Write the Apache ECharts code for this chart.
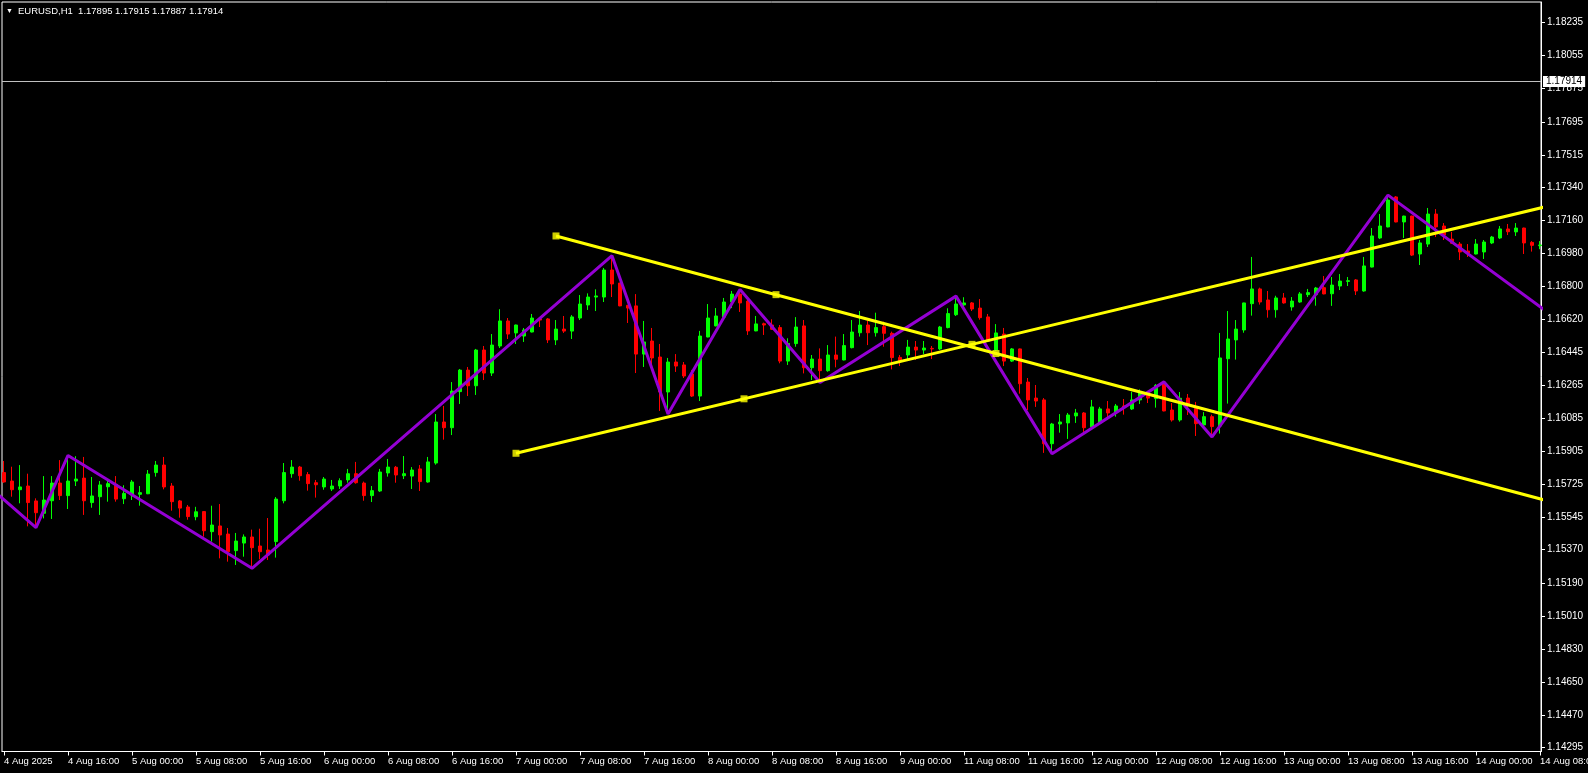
<!DOCTYPE html>
<html>
<head>
<meta charset="utf-8">
<script src="https://cdn.jsdelivr.net/npm/echarts@6/dist/echarts.min.js"></script>
<style>
html,body{margin:0;padding:0;background:#000;}
#chart{width:1588px;height:773px;}
</style>
</head>
<body>
<div id="chart"></div>
<script>
// ---------- DATA ----------
const symbolName = 'EURUSD,H1';
const headerOHLC = [1.17895, 1.17915, 1.17887, 1.17914];
const bidPrice = 1.17914;

const timeLabels = ['4 Aug 2025','4 Aug 16:00','5 Aug 00:00','5 Aug 08:00','5 Aug 16:00','6 Aug 00:00','6 Aug 08:00','6 Aug 16:00','7 Aug 00:00','7 Aug 08:00','7 Aug 16:00','8 Aug 00:00','8 Aug 08:00','8 Aug 16:00','9 Aug 00:00','11 Aug 08:00','11 Aug 16:00','12 Aug 00:00','12 Aug 08:00','12 Aug 16:00','13 Aug 00:00','13 Aug 08:00','13 Aug 16:00','14 Aug 00:00','14 Aug 08:00'];

const priceTicks = [1.18235,1.18055,1.17875,1.17695,1.17515,1.17340,1.17160,1.16980,1.16800,1.16620,1.16445,1.16265,1.16085,1.15905,1.15725,1.15545,1.15370,1.15190,1.15010,1.14830,1.14650,1.14470,1.14295];

const opens = [
1.15789,1.15743,1.15696,1.15716,1.15635,1.15568,1.15636,1.15732,1.15664,1.15743,
1.15759,1.15626,1.15658,1.15712,1.15725,1.15647,1.15667,1.15671,1.15674,1.15789,
1.15830,1.15716,1.15635,1.15602,1.15549,1.15577,1.15468,1.15499,1.15455,1.15365,
1.15406,1.15439,1.15390,1.15368,1.15414,1.15636,1.15783,1.15819,1.15778,1.15734,
1.15711,1.15700,1.15716,1.15749,1.15783,1.15732,1.15664,1.15689,1.15787,1.15818,
1.15772,1.15770,1.15809,1.15738,1.15841,1.16064,1.16033,1.16229,1.16346,1.16261,
1.16455,1.16330,1.16477,1.16613,1.16548,1.16531,1.16553,1.16624,1.16624,1.16510,
1.16569,1.16558,1.16629,1.16700,1.16743,1.16743,1.16890,1.16819,1.16698,1.16695,
1.16433,1.16504,1.16417,1.16227,1.16390,1.16374,1.16325,1.16205,1.16526,1.16586,
1.16634,1.16716,1.16759,1.16721,1.16559,1.16598,1.16591,1.16577,1.16395,1.16490,
1.16586,1.16359,1.16406,1.16343,1.16428,1.16401,1.16468,1.16549,1.16591,1.16549,
1.16582,1.16546,1.16415,1.16428,1.16471,1.16455,1.16464,1.16461,1.16577,1.16647,
1.16700,1.16711,1.16683,1.16635,1.16455,1.16542,1.16395,1.16461,1.16281,1.16194,
1.16184,1.15946,1.16053,1.16059,1.16097,1.16113,1.16037,1.16059,1.16135,1.16115,
1.16151,1.16135,1.16184,1.16225,1.16191,1.16270,1.16129,1.16075,1.16194,1.16138,
1.16048,1.16093,1.16042,1.16408,1.16510,1.16564,1.16707,1.16787,1.16727,1.16674,
1.16738,1.16689,1.16716,1.16756,1.16756,1.16794,1.16761,1.16803,1.16828,1.16836,
1.16776,1.16906,1.17064,1.17124,1.17287,1.17151,1.17183,1.16977,1.17031,1.17194,
1.17129,1.17058,1.17031,1.16993,1.16977,1.16988,1.17037,1.17064,1.17113,1.17097,
1.17118,1.17040,1.17022];

const highs = [
1.15852,1.15821,1.15830,1.15783,1.15649,1.15770,1.15770,1.15857,1.15882,1.15878,
1.15874,1.15765,1.15743,1.15745,1.15770,1.15720,1.15749,1.15716,1.15803,1.15852,
1.15874,1.15732,1.15640,1.15613,1.15603,1.15580,1.15609,1.15618,1.15488,1.15461,
1.15453,1.15479,1.15484,1.15542,1.15656,1.15841,1.15857,1.15825,1.15792,1.15749,
1.15765,1.15749,1.15758,1.15809,1.15847,1.15740,1.15716,1.15809,1.15863,1.15825,
1.15879,1.15819,1.15830,1.15874,1.16107,1.16151,1.16281,1.16352,1.16363,1.16461,
1.16477,1.16542,1.16677,1.16629,1.16593,1.16575,1.16651,1.16626,1.16629,1.16618,
1.16640,1.16645,1.16754,1.16763,1.16785,1.16901,1.16968,1.16820,1.16700,1.16759,
1.16613,1.16575,1.16488,1.16412,1.16433,1.16390,1.16347,1.16559,1.16705,1.16683,
1.16738,1.16776,1.16784,1.16727,1.16640,1.16604,1.16622,1.16591,1.16519,1.16634,
1.16618,1.16428,1.16464,1.16482,1.16528,1.16542,1.16618,1.16667,1.16615,1.16658,
1.16609,1.16555,1.16428,1.16510,1.16504,1.16504,1.16477,1.16586,1.16682,1.16748,
1.16742,1.16716,1.16732,1.16651,1.16596,1.16575,1.16466,1.16463,1.16303,1.16265,
1.16194,1.16059,1.16107,1.16113,1.16135,1.16118,1.16184,1.16146,1.16178,1.16162,
1.16189,1.16228,1.16241,1.16227,1.16270,1.16282,1.16167,1.16227,1.16216,1.16173,
1.16118,1.16104,1.16548,1.16667,1.16618,1.16712,1.16961,1.16794,1.16776,1.16750,
1.16765,1.16743,1.16770,1.16787,1.16798,1.16857,1.16852,1.16868,1.16852,1.16841,
1.16961,1.17118,1.17194,1.17297,1.17292,1.17185,1.17185,1.17053,1.17227,1.17221,
1.17145,1.17097,1.17042,1.17031,1.17058,1.17053,1.17075,1.17129,1.17140,1.17145,
1.17120,1.17047,1.17047];

const lows = [
1.15734,1.15658,1.15622,1.15497,1.15490,1.15540,1.15537,1.15640,1.15591,1.15716,
1.15559,1.15598,1.15559,1.15631,1.15631,1.15618,1.15640,1.15609,1.15672,1.15767,
1.15698,1.15582,1.15544,1.15533,1.15530,1.15441,1.15414,1.15323,1.15305,1.15287,
1.15332,1.15269,1.15318,1.15314,1.15327,1.15622,1.15761,1.15745,1.15691,1.15653,
1.15696,1.15689,1.15700,1.15734,1.15729,1.15636,1.15629,1.15684,1.15767,1.15734,
1.15754,1.15700,1.15689,1.15734,1.15832,1.15968,1.15993,1.16162,1.16205,1.16211,
1.16292,1.16314,1.16466,1.16515,1.16488,1.16499,1.16551,1.16580,1.16493,1.16482,
1.16548,1.16515,1.16618,1.16673,1.16667,1.16716,1.16743,1.16693,1.16602,1.16330,
1.16363,1.16363,1.16124,1.16108,1.16336,1.16303,1.16200,1.16178,1.16524,1.16584,
1.16629,1.16683,1.16662,1.16537,1.16557,1.16537,1.16564,1.16383,1.16374,1.16473,
1.16328,1.16292,1.16279,1.16337,1.16361,1.16399,1.16464,1.16528,1.16482,1.16528,
1.16473,1.16350,1.16368,1.16406,1.16401,1.16433,1.16406,1.16455,1.16573,1.16640,
1.16694,1.16667,1.16620,1.16499,1.16450,1.16368,1.16390,1.16218,1.16129,1.16146,
1.15896,1.15892,1.16006,1.15972,1.16059,1.16010,1.16033,1.16057,1.16075,1.16093,
1.16104,1.16129,1.16162,1.16167,1.16142,1.16122,1.16066,1.16066,1.16102,1.15988,
1.16043,1.15983,1.16001,1.16164,1.16403,1.16549,1.16642,1.16702,1.16631,1.16631,
1.16707,1.16669,1.16712,1.16743,1.16696,1.16758,1.16695,1.16781,1.16803,1.16754,
1.16772,1.16904,1.17058,1.17122,1.17149,1.17064,1.16966,1.16917,1.17015,1.17069,
1.17053,1.17033,1.16944,1.16961,1.16975,1.16950,1.17031,1.17058,1.17080,1.17075,
1.16977,1.16990,1.17003];

const closes = [
1.15738,1.15696,1.15711,1.15626,1.15571,1.15640,1.15732,1.15664,1.15743,1.15754,
1.15636,1.15662,1.15722,1.15729,1.15645,1.15676,1.15738,1.15680,1.15781,1.15830,
1.15711,1.15631,1.15596,1.15550,1.15576,1.15473,1.15504,1.15450,1.15359,1.15417,
1.15439,1.15381,1.15359,1.15341,1.15645,1.15789,1.15819,1.15772,1.15729,1.15723,
1.15754,1.15716,1.15745,1.15783,1.15734,1.15664,1.15691,1.15792,1.15819,1.15776,
1.15783,1.15803,1.15740,1.15847,1.16064,1.16033,1.16232,1.16346,1.16261,1.16455,
1.16330,1.16482,1.16613,1.16542,1.16591,1.16564,1.16629,1.16618,1.16510,1.16569,
1.16558,1.16635,1.16705,1.16743,1.16749,1.16890,1.16814,1.16695,1.16683,1.16433,
1.16499,1.16412,1.16227,1.16390,1.16368,1.16314,1.16205,1.16531,1.16629,1.16640,
1.16716,1.16759,1.16711,1.16559,1.16597,1.16591,1.16568,1.16395,1.16491,1.16580,
1.16359,1.16406,1.16343,1.16428,1.16405,1.16479,1.16553,1.16591,1.16549,1.16577,
1.16546,1.16414,1.16395,1.16471,1.16455,1.16466,1.16461,1.16580,1.16653,1.16705,
1.16711,1.16678,1.16631,1.16504,1.16548,1.16395,1.16461,1.16272,1.16184,1.16178,
1.15946,1.16053,1.16064,1.16102,1.16113,1.16033,1.16146,1.16135,1.16113,1.16151,
1.16142,1.16184,1.16225,1.16194,1.16263,1.16124,1.16075,1.16193,1.16162,1.16055,
1.16093,1.16039,1.16412,1.16515,1.16569,1.16711,1.16787,1.16716,1.16674,1.16738,
1.16711,1.16721,1.16760,1.16767,1.16792,1.16760,1.16808,1.16830,1.16832,1.16776,
1.16912,1.17075,1.17129,1.17270,1.17151,1.17183,1.16971,1.17037,1.17194,1.17124,
1.17080,1.17035,1.16988,1.16982,1.17031,1.17042,1.17069,1.17113,1.17098,1.17118,
1.17037,1.17024,1.17026];

// ZigZag pivots [bar index, price]
const zigzag = [[-4,1.15792],[4,1.15490],[8,1.15882],[31,1.15269],[76,1.16968],[83,1.16108],[92,1.16784],[102,1.16279],[119,1.16748],[131,1.15892],[145,1.16282],[151,1.15983],[173,1.17297],[200,1.16436]];

// Trendlines (rays): anchors and where the ray leaves the chart
const trendDown = [[69,1.17075],[124,1.16436],[193,1.15635]];
const trendDownAnchors = [[69,1.17075],[96.5,1.16756],[124,1.16436]];
const trendUp = [[64,1.15894],[121,1.16486],[193,1.17237]];
const trendUpAnchors = [[64,1.15894],[92.5,1.16190],[121,1.16486]];

// ---------- CHART ----------
const FONT = 'Liberation Sans, Arial, sans-serif';
const YELLOW = '#ffff00';
const chart = echarts.init(document.getElementById('chart'), null, {renderer: 'canvas'});

const candleData = opens.map((o, i) => [i, o, closes[i], lows[i], highs[i]]);
const xTicks = timeLabels.map((_, k) => k * 8);

chart.setOption({
  backgroundColor: '#000000',
  animation: false,
  title: {
    left: 6, top: 6, padding: 0,
    text: '{t|▼}' + symbolName + '  ' + headerOHLC.map(v => v.toFixed(5)).join(' '),
    textStyle: {
      color: '#ffffff', fontSize: 9.5, fontFamily: FONT, fontWeight: 'normal',
      rich: { t: { fontSize: 7, color: '#ffffff', padding: [0, 5, 0, 0] } }
    }
  },
  grid: {
    left: 2, top: 2, width: 1539, height: 749.5,
    outerBoundsMode: 'none', containLabel: false,
    show: true, borderColor: '#ffffff', borderWidth: 1, backgroundColor: 'transparent'
  },
  xAxis: {
    type: 'value', min: -0.25, max: 192.125,
    axisLine: { show: true, onZero: false, lineStyle: { color: '#ffffff', width: 1 } },
    splitLine: { show: false },
    axisTick: { show: true, customValues: xTicks, length: 4, lineStyle: { color: '#ffffff' } },
    axisLabel: {
      show: true, customValues: xTicks, color: '#ffffff', fontSize: 9.5, fontFamily: FONT,
      align: 'left', margin: 5, hideOverlap: false,
      formatter: v => timeLabels[Math.round(v / 8)]
    }
  },
  yAxis: {
    type: 'value', position: 'right', min: 1.142733, max: 1.183464,
    axisLine: { show: true, onZero: false, lineStyle: { color: '#ffffff', width: 1 } },
    splitLine: { show: false },
    axisTick: { show: true, customValues: priceTicks, length: 4, lineStyle: { color: '#ffffff' } },
    axisLabel: {
      show: true, customValues: priceTicks, color: '#ffffff', fontSize: 10, fontFamily: FONT,
      margin: 6, formatter: v => v.toFixed(5)
    }
  },
  series: [
    {
      type: 'candlestick',
      data: candleData,
      barWidth: 4,
      silent: true,
      z: 2,
      itemStyle: {
        color: '#00ff00', color0: '#ff0000',
        borderColor: '#00ff00', borderColor0: '#ff0000', borderWidth: 1
      }
    },
    {
      type: 'line',
      data: zigzag,
      symbol: 'none',
      silent: true,
      z: 3,
      lineStyle: { color: '#9400d3', width: 3 },
      markLine: {
        silent: true,
        precision: 5,
        symbol: ['none', 'none'],
        lineStyle: { color: '#c0c0c0', width: 1, type: 'solid' },
        label: {
          show: true, position: 'end', distance: 2,
          formatter: bidPrice.toFixed(5),
          color: '#000000', backgroundColor: '#ffffff',
          fontSize: 10, fontFamily: FONT, padding: [1, 3, 0, 3]
        },
        data: [{ yAxis: bidPrice }]
      }
    },
    {
      type: 'line', data: trendDown, symbol: 'none', silent: true, z: 4,
      lineStyle: { color: YELLOW, width: 3 }
    },
    {
      type: 'line', data: trendUp, symbol: 'none', silent: true, z: 4,
      lineStyle: { color: YELLOW, width: 3 }
    },
    {
      type: 'scatter', data: trendDownAnchors.concat(trendUpAnchors),
      symbol: 'rect', symbolSize: 7, silent: true, z: 5,
      itemStyle: { color: YELLOW }
    }
  ]
});
</script>
</body>
</html>
